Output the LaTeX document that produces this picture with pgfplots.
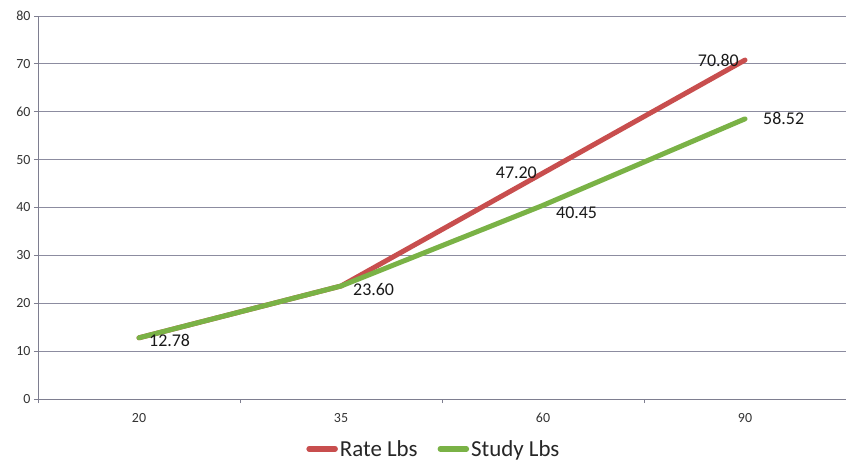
\documentclass[border=0pt]{standalone}
\usepackage{pgfplots}
\pgfplotsset{compat=1.18}
\usepackage{fontspec}
\setmainfont{Carlito}
\definecolor{rateC}{RGB}{200,78,78}
\definecolor{studyC}{RGB}{122,178,70}
\definecolor{gridC}{RGB}{140,140,160}
\pgfplotsset{
  lbl/.style n args={3}{draw=none, mark=none, forget plot, nodes near coords, point meta=explicit symbolic,
    every node near coord/.append style={anchor=#1, xshift=#2, yshift=#3, inner sep=0pt, font=\fontsize{18}{20}\selectfont, text=black!90}},
}
\begin{document}
\begin{tikzpicture}
\begin{axis}[
  at={(0,0)}, anchor=south west,
  scale only axis, width=808bp, height=383bp,
  xmin=-0.5, xmax=3.5, ymin=0, ymax=80,
  xtick={0,1,2,3}, xticklabels={20,35,60,90},
  minor xtick={-0.5,0.5,1.5,2.5,3.5},
  ytick={0,10,...,80},
  axis x line*=bottom, axis y line*=left,
  axis line style={gridC!90!black, line width=0.8pt, -},
  ymajorgrids, major grid style={gridC, line width=0.8pt},
  major x tick style={draw=none},
  minor x tick style={gridC!90!black, line width=0.8pt},
  major y tick style={gridC!90!black, line width=0.8pt},
  tick align=outside, major tick length=4bp, minor tick length=4bp,
  tick label style={font=\fontsize{14}{16}\selectfont, text=black!80},
  /pgf/number format/assume math mode=true,
  xticklabel style={yshift=-7bp},
  legend style={at={(0.49,-0.13)}, anchor=center, draw=none, legend columns=2,
    font=\fontsize{23}{26}\selectfont, text=black!85,
    /tikz/every even column/.append style={column sep=18bp}},
  legend image code/.code={\draw[#1, line width=5.5bp, line cap=round] (0bp,0bp) -- (26bp,0bp);},
  clip=false,
]
\addplot[rateC, line width=5bp, line cap=round, line join=round] coordinates {(0,12.78) (1,23.60) (2,47.20) (3,70.80)};
\addlegendentry{Rate Lbs}
\addplot[studyC, line width=5bp, line cap=round, line join=round] coordinates {(0,12.78) (1,23.60) (2,40.45) (3,58.52)};
\addlegendentry{Study Lbs}
\addplot[lbl={west}{10bp}{-3bp}] coordinates {(0,12.78) [12.78]};
\addplot[lbl={west}{12bp}{-3bp}] coordinates {(1,23.60) [23.60]};
\addplot[lbl={west}{13bp}{-7bp}] coordinates {(2,40.45) [40.45]};
\addplot[lbl={west}{18bp}{0bp}] coordinates {(3,58.52) [58.52]};
\addplot[lbl={east}{-6bp}{0bp}] coordinates {(2,47.20) [47.20]};
\addplot[lbl={east}{-6bp}{0bp}] coordinates {(3,70.80) [70.80]};
\end{axis}
\pgfresetboundingbox
\path (-38bp,-67bp) rectangle (808bp,399bp);
\end{tikzpicture}
\end{document}
